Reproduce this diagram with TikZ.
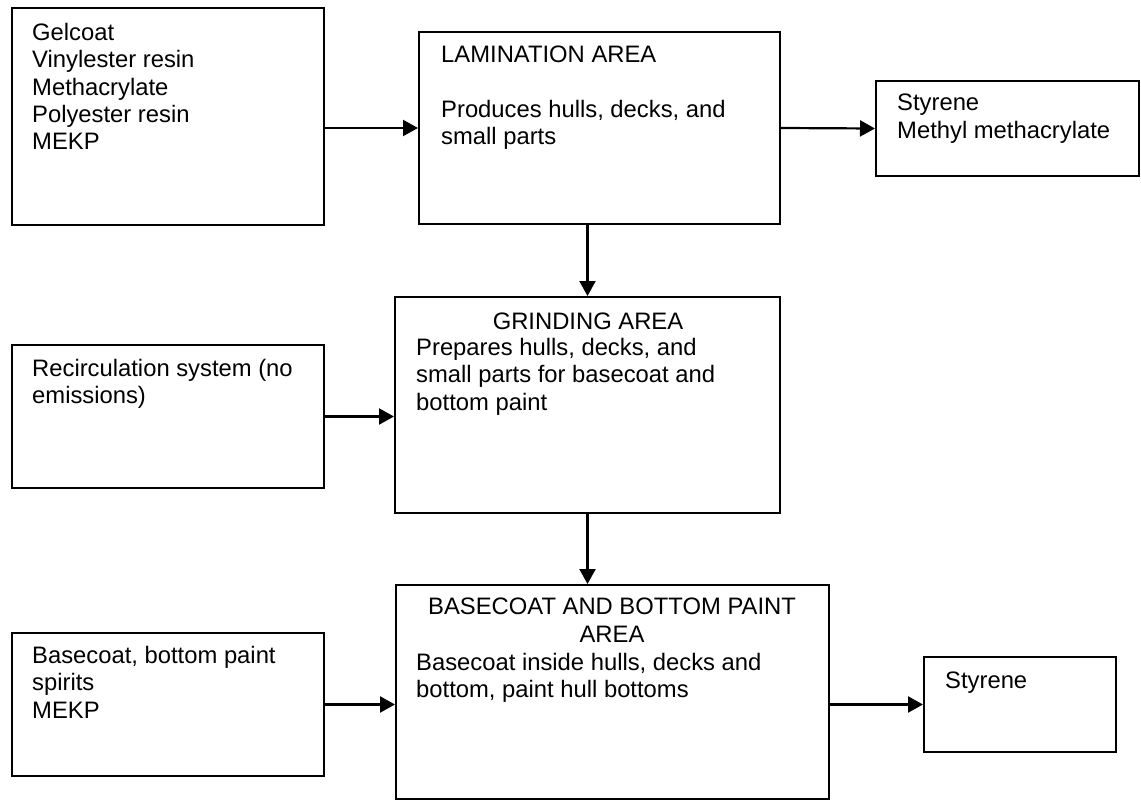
\documentclass[tikz,border=0pt]{standalone}
\usepackage{fontspec}
\setmainfont{Liberation Sans}
\usetikzlibrary{arrows.meta}
\tikzset{
  box/.style={draw=black, line width=2pt, rectangle, inner sep=0pt},
  txt/.style={inner sep=0pt, anchor=north west, align=left,
    font=\fontsize{23.8pt}{27.4pt}\selectfont, execute at begin node=\strut},
  ttl/.style={inner sep=0pt, anchor=north, align=center,
    font=\fontsize{23.8pt}{27.4pt}\selectfont, execute at begin node=\strut},
  arr/.style={line width=2.2pt, -{Triangle[length=15pt,width=16pt]}}
}
\begin{document}
\begin{tikzpicture}[x=1pt, y=-1pt]
\useasboundingbox (0,0) rectangle (1141,800);
% boxes
\node[box, minimum width=312pt, minimum height=217pt] (b1) at (168,116.5) {};
\node[box, minimum width=361pt, minimum height=192pt] (lam) at (599.5,128) {};
\node[box, minimum width=263pt, minimum height=95pt] (out1) at (1007.5,128.5) {};
\node[box, minimum width=385pt, minimum height=216pt] (grind) at (587.5,405) {};
\node[box, minimum width=312pt, minimum height=143pt] (recirc) at (168,416.5) {};
\node[box, minimum width=433pt, minimum height=214pt] (base) at (612.5,692) {};
\node[box, minimum width=312pt, minimum height=143pt] (basein) at (168,704.5) {};
\node[box, minimum width=192pt, minimum height=95pt] (out2) at (1020,704.5) {};
% texts
\node[txt] (t1) at (32,22.8) {Gelcoat\\Vinylester resin\\Methacrylate\\Polyester resin\\MEKP};
\node[txt] (tlam) at (441,45.8) {LAMINATION AREA\\[27.4pt]Produces hulls, decks, and\\small parts};
\node[txt] (tout1) at (897,93.8) {Styrene\\Methyl methacrylate};
\node[ttl] (tgrindt) at (588,309.8) {GRINDING AREA};
\node[txt] (tgrind) at (416,337.8) {Prepares hulls, decks, and\\small parts for basecoat and\\bottom paint};
\node[txt] (trecirc) at (32,358.8) {Recirculation system (no\\emissions)};
\node[ttl] (tbaset) at (612,597.8) {BASECOAT AND BOTTOM PAINT\\AREA};
\node[txt] (tbase) at (416,652.8) {Basecoat inside hulls, decks and\\bottom, paint hull bottoms};
\node[txt] (tbasein) at (32,645.8) {Basecoat, bottom paint\\spirits\\MEKP};
\node[txt] (tout2) at (945,668.8) {Styrene};
% connectors
\draw[arr] (b1.east |- lam.west) -- (lam.west);
\draw[arr] (lam.east) -- (out1.west);
\draw[arr] (lam.south -| grind.north) -- (grind.north);
\draw[arr] (recirc.east) -- (recirc.east -| grind.west);
\draw[arr] (grind.south) -- (grind.south |- base.north);
\draw[arr] (basein.east) -- (basein.east -| base.west);
\draw[arr] (out2.west -| base.east) -- (out2.west);
\end{tikzpicture}
\end{document}
